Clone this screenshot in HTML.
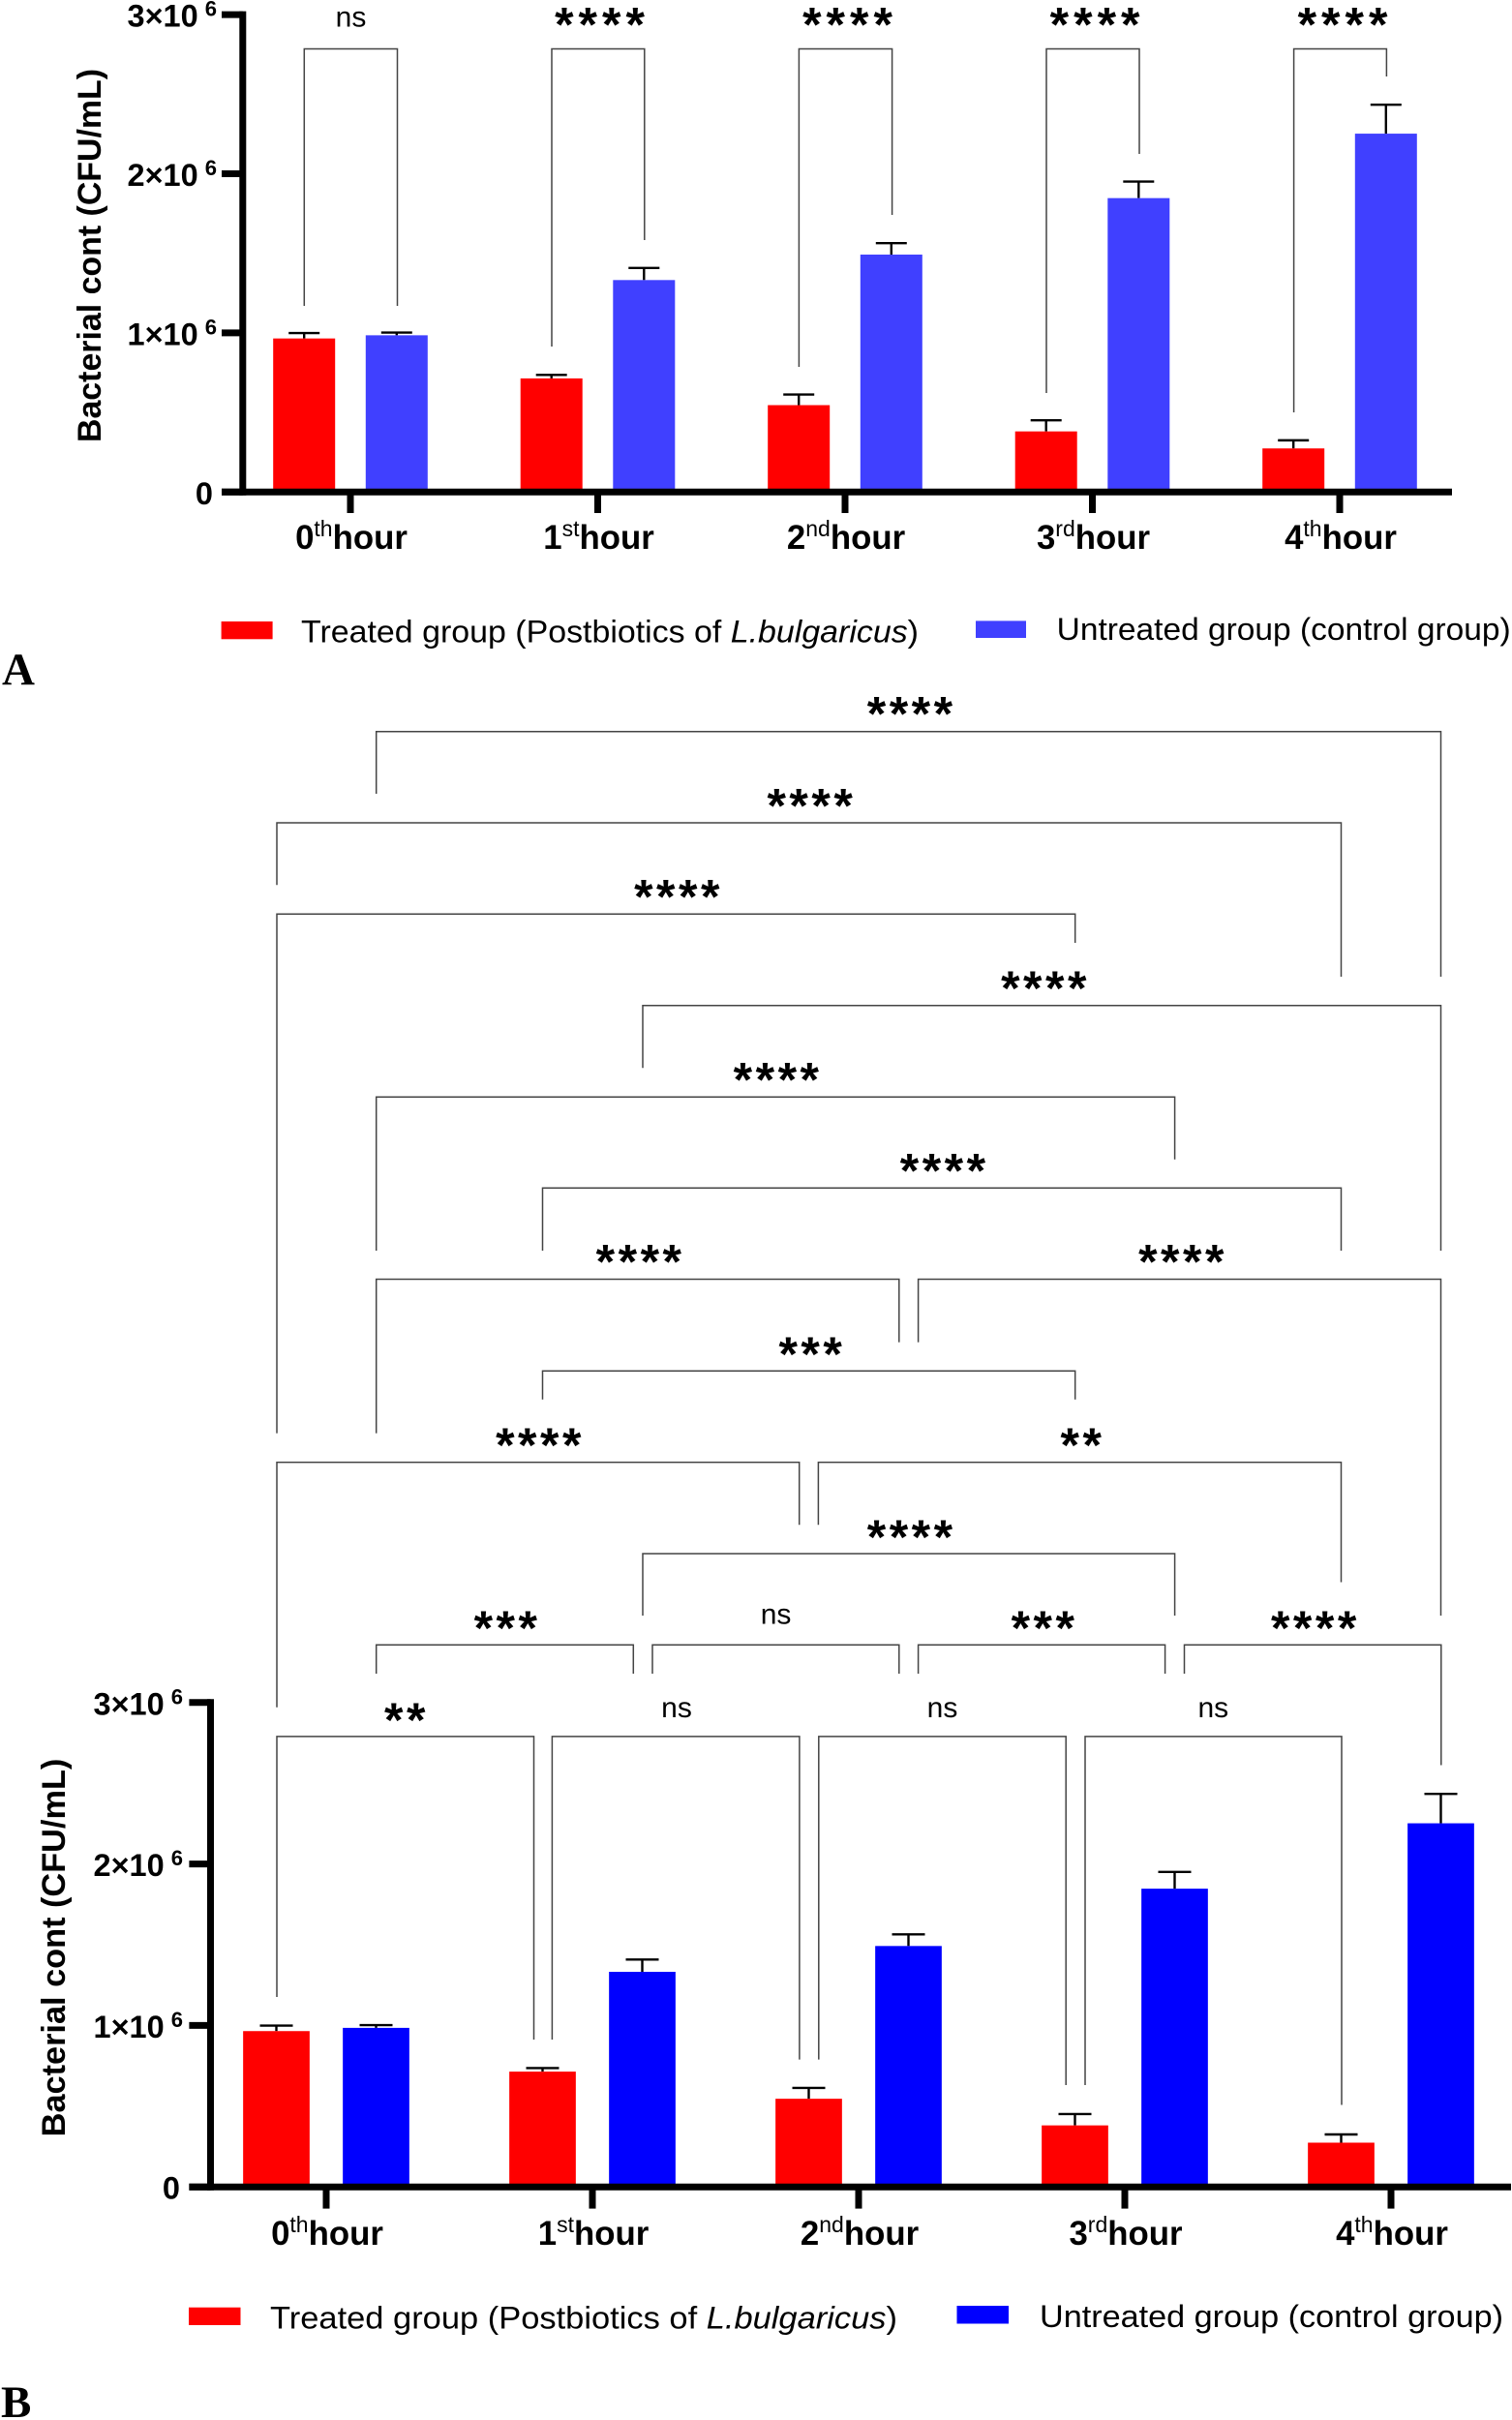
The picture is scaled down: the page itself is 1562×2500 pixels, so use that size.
<!DOCTYPE html>
<html lang="en">
<head>
<meta charset="utf-8">
<title>Bacterial count over time</title>
<style>
html,body{margin:0;padding:0;background:#fff;width:1562px;height:2500px;overflow:hidden}
svg{display:block}
text{font-family:"Liberation Sans",sans-serif;fill:#000}
.br{fill:none;stroke:#444;stroke-width:1.5}
.st{font-size:50px;font-weight:bold;letter-spacing:5px;text-anchor:middle;transform:translate(3px,22.6px)}
.st2{font-size:50px;font-weight:bold;letter-spacing:3.5px;text-anchor:middle;transform:translate(2px,24px)}
.ns{font-size:30px;text-anchor:middle}
.leg{font-size:32.5px}
.pl{font-family:"Liberation Serif",serif;font-weight:bold;font-size:47px}
</style>
</head>
<body>
<svg id="fig" xmlns="http://www.w3.org/2000/svg" width="1562" height="2500" viewBox="0 0 1562 2500">
<rect width="1562" height="2500" fill="#fff"/>

<g id="panel-a"></g>
<g id="panel-b"></g>

<!-- Panel A significance brackets -->
<g>
<path class="br" d="M314.3 316V50.5H410.5V316"/>
<text class="ns" x="362.5" y="27.3">ns</text>
<path class="br" d="M570 358V50.5H665.8V248"/>
<text class="st" x="619" y="20">****</text>
<path class="br" d="M825.4 379V50.5H921.6V222"/>
<text class="st" x="875" y="20">****</text>
<path class="br" d="M1081 406V50.5H1177V159"/>
<text class="st" x="1130.6" y="20">****</text>
<path class="br" d="M1336.6 426V50.5H1432.4V79"/>
<text class="st" x="1386.5" y="20">****</text>
</g>

<!-- Panel B significance brackets -->
<g>
<path class="br" d="M388.7 820V755.7H1488.5V1009"/>
<text class="st2" x="939.7" y="730.7">****</text>
<path class="br" d="M286 914.3V850H1385.5V1009"/>
<text class="st2" x="836.4" y="825.3">****</text>
<path class="br" d="M286 1480.6V944.3H1110.7V974"/>
<text class="st2" x="699" y="919.3">****</text>
<path class="br" d="M664 1103.3V1038.7H1488.5V1292"/>
<text class="st2" x="1078" y="1014">****</text>
<path class="br" d="M388.7 1292V1133.3H1213.6V1197.7"/>
<text class="st2" x="801.6" y="1108.3">****</text>
<path class="br" d="M560.5 1292V1227.2H1385.5V1292"/>
<text class="st2" x="973.7" y="1202.7">****</text>
<path class="br" d="M388.7 1480.6V1321.5H928.8V1386.6"/>
<text class="st2" x="659.6" y="1296.4">****</text>
<path class="br" d="M948.6 1386.6V1321.5H1488.5V1669"/>
<text class="st2" x="1220" y="1296.4">****</text>
<path class="br" d="M560.5 1445.8V1416.2H1110.7V1445.8"/>
<text class="st2" x="836.9" y="1391.8">***</text>
<path class="br" d="M286 1763.8V1510.6H825.7V1575.3"/>
<text class="st2" x="556" y="1485.8">****</text>
<path class="br" d="M845.4 1575.3V1510.6H1385.5V1634.5"/>
<text class="st2" x="1116.5" y="1485.8">**</text>
<path class="br" d="M664 1669V1605H1213.6V1669"/>
<text class="st2" x="939.7" y="1581.2">****</text>
<path class="br" d="M388.7 1729V1699.3H654.3V1729"/>
<text class="st2" x="522" y="1675.2">***</text>
<path class="br" d="M674 1729V1699.3H928.8V1729"/>
<text class="ns" x="801.6" y="1677.6">ns</text>
<path class="br" d="M948.6 1729V1699.3H1203.6V1729"/>
<text class="st2" x="1077" y="1675.2">***</text>
<path class="br" d="M1223.5 1729V1699.3H1488.8V1823.5"/>
<text class="st2" x="1356.9" y="1675.2">****</text>
<path class="br" d="M286 2063V1793.9H551.5V2107"/>
<text class="st2" x="418" y="1770">**</text>
<path class="br" d="M570.4 2107V1793.9H825.9V2127.6"/>
<text class="ns" x="699" y="1774">ns</text>
<path class="br" d="M845.8 2127.6V1793.9H1101.2V2154"/>
<text class="ns" x="973.5" y="1774">ns</text>
<path class="br" d="M1121 2154V1793.9H1386V2174.5"/>
<text class="ns" x="1253.3" y="1774">ns</text>
</g>

<!-- Legends -->
<g>
<rect x="228.6" y="642" width="53" height="18.3" fill="#ff0000"/>
<text class="leg" x="311" y="663.5" textLength="638" lengthAdjust="spacingAndGlyphs">Treated group (Postbiotics of <tspan font-style="italic">L.bulgaricus</tspan>)</text>
<rect x="1008" y="641.4" width="52" height="17.6" fill="#4040ff"/>
<text class="leg" x="1091.7" y="661" textLength="469" lengthAdjust="spacingAndGlyphs">Untreated group (control group)</text>
</g>
<g>
<rect x="195" y="2383.7" width="53.5" height="18.3" fill="#ff0000"/>
<text class="leg" x="279" y="2405.6" textLength="648" lengthAdjust="spacingAndGlyphs">Treated group (Postbiotics of <tspan font-style="italic">L.bulgaricus</tspan>)</text>
<rect x="988.5" y="2382" width="53.5" height="18.5" fill="#0000ff"/>
<text class="leg" x="1074" y="2404" textLength="479" lengthAdjust="spacingAndGlyphs">Untreated group (control group)</text>
</g>

<text class="pl" x="2" y="707">A</text>
<text class="pl" x="1" y="2497">B</text>
</svg>

<script>
const hours = ["0", "1", "2", "3", "4"];
const hourSuffixes = ["th", "st", "nd", "rd", "th"];
const treatedValues = [965000, 714000, 546000, 381000, 274000];
const treatedErrors = [34000, 22000, 67000, 70000, 51000];
const untreatedValues = [985000, 1332000, 1492000, 1847000, 2252000];
const untreatedErrors = [17000, 76000, 72000, 104000, 182000];
const yTicks = [0, 1000000, 2000000, 3000000];
const yTickLabels = ["0", "1×10", "2×10", "3×10"];
const yTickExponent = "6";
const yTitle = "Bacterial cont (CFU/mL)";

const SVGNS = "http://www.w3.org/2000/svg";
function mk(parent, tag, attrs, text) {
  const el = document.createElementNS(SVGNS, tag);
  for (const k in attrs) el.setAttribute(k, attrs[k]);
  if (text !== undefined) el.textContent = text;
  parent.appendChild(el);
  return el;
}

function drawPanel(cfg) {
  const g = document.getElementById(cfg.id);
  const yScale = v => cfg.y0 - (v / 1000000) * cfg.pxPerMillion;
  const xScale = i => cfg.x0 + i * cfg.step;

  // bars and error bars
  function series(values, errors, offset, color, label) {
    values.forEach((v, i) => {
      const cx = xScale(i) + offset;
      const top = yScale(v);
      const errTop = yScale(v + errors[i]);
      const stem = mk(g, "line", {x1: cx, x2: cx, y1: top, y2: errTop, stroke: "#000", "stroke-width": 2.4});
      
      
      const cap = mk(g, "line", {x1: cx - cfg.capW / 2, x2: cx + cfg.capW / 2, y1: errTop, y2: errTop, stroke: "#000", "stroke-width": 2.4});
      
      
      const bar = mk(g, "rect", {x: cx - cfg.barW / 2, y: top, width: cfg.barW, height: cfg.y0 - top, fill: color});
      
      
    });
  }
  series(treatedValues, treatedErrors, -cfg.offset, "#ff0000", "treated");
  series(untreatedValues, untreatedErrors, cfg.offset, cfg.blue, "untreated");

  // axes
  const topY = yScale(yTicks[yTicks.length - 1]);
  const yAxis = mk(g, "line", {x1: cfg.axisX, x2: cfg.axisX, y1: topY - 3.5, y2: cfg.y0 + 3.5, stroke: "#000", "stroke-width": 7});
  
  
  const xAxis = mk(g, "line", {x1: cfg.tickLeft, x2: cfg.axisEnd, y1: cfg.y0, y2: cfg.y0, stroke: "#000", "stroke-width": 7});
  
  

  // y ticks
  yTicks.forEach((t, i) => {
    const y = yScale(t);
    const tick = mk(g, "line", {x1: cfg.tickLeft, x2: cfg.axisX, y1: y, y2: y, stroke: "#000", "stroke-width": 7});
    
    
    const lab = mk(g, "text", {x: t === 0 ? cfg.zeroRight : cfg.labelLeft, y: y + 12.5, "font-size": 32.5, "font-weight": "bold", "text-anchor": t === 0 ? "end" : "start"}, yTickLabels[i]);
    
    
    if (t !== 0) {
      const sup = mk(lab, "tspan", {dx: 7, dy: -11, "font-size": 22}, yTickExponent);
      
      
    }
  });

  // x ticks and category labels
  hours.forEach((h, i) => {
    const x = xScale(i);
    const tick = mk(g, "line", {x1: x, x2: x, y1: cfg.y0, y2: cfg.tickBottom, stroke: "#000", "stroke-width": 7});
    
    
    const lab = mk(g, "text", {x: x + 1, y: cfg.catY, "font-size": 34.8, "font-weight": "bold", "text-anchor": "middle"}, h);
    
    
    mk(lab, "tspan", {dy: -13, "font-size": 23, "font-weight": "normal"}, hourSuffixes[i]);
    mk(lab, "tspan", {dy: 13}, "hour");
  });

  // y title
  const title = mk(g, "text", {x: 0, y: 0, "font-size": cfg.titleSize, "font-weight": "bold", "text-anchor": "middle", transform: "translate(" + cfg.titleX + " " + cfg.titleY + ") rotate(-90)"}, yTitle);
  
  
}

drawPanel({id: "panel-a", y0: 508.3, pxPerMillion: 164.4, x0: 362, step: 255.5, offset: 47.8, barW: 64, capW: 32, axisX: 250.8, axisEnd: 1500, tickLeft: 229, labelLeft: 131.5, zeroRight: 220, tickBottom: 530, catY: 567, blue: "#4040ff", titleX: 104, titleY: 264, titleSize: 33.9});
drawPanel({id: "panel-b", y0: 2259.2, pxPerMillion: 166.8, x0: 337, step: 275, offset: 51.5, barW: 68.7, capW: 34, axisX: 217.5, axisEnd: 1561, tickLeft: 195.4, labelLeft: 96.5, zeroRight: 186, tickBottom: 2281.6, catY: 2319, blue: "#0000ff", titleX: 67, titleY: 2012, titleSize: 34.3});
</script>
</body>
</html>
